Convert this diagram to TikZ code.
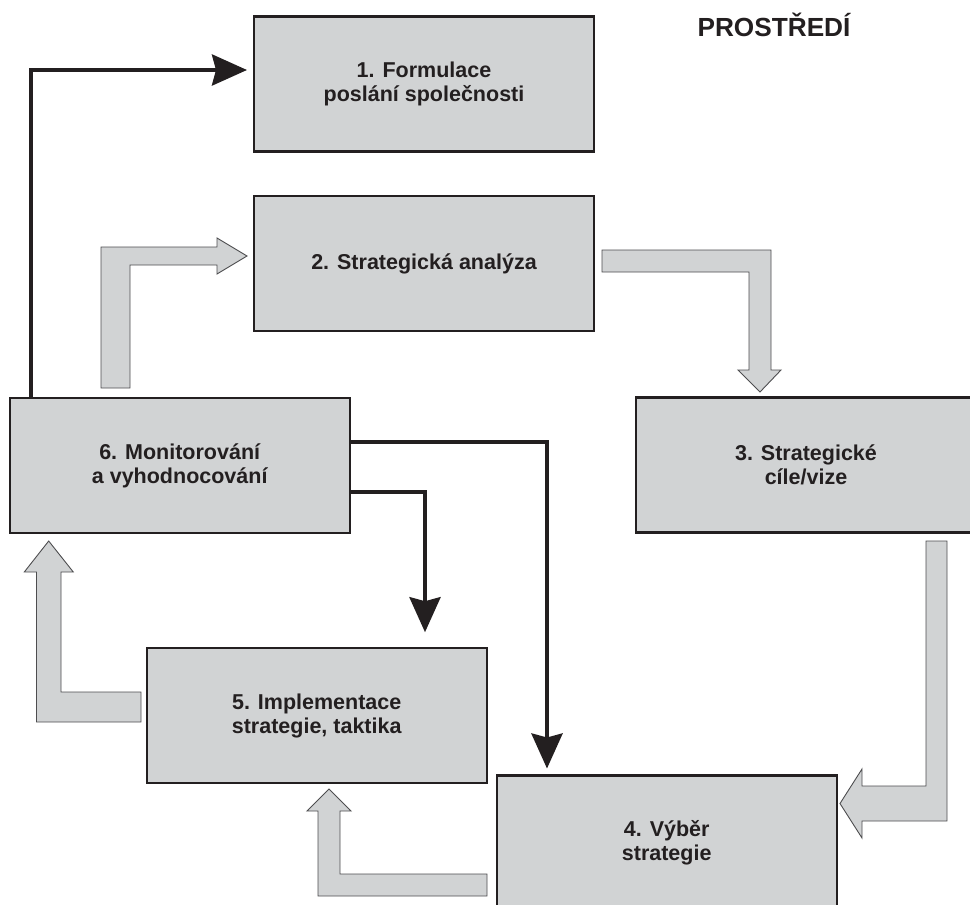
\documentclass[tikz,border=0pt]{standalone}
\usepackage{fontspec}
\setmainfont{Liberation Sans}
\usetikzlibrary{arrows.meta}
\definecolor{boxgray}{HTML}{D1D3D4}
\definecolor{ink}{HTML}{231F20}
\definecolor{edgegray}{HTML}{4D4D4F}
\tikzset{
  stage/.style={draw=ink, line width=2.2pt, fill=boxgray, minimum width=340pt, minimum height=135pt,
    inner sep=0pt, outer sep=0pt, align=center, text=ink,
    font=\fontsize{21.5}{24}\selectfont\bfseries},
  blk/.style={draw=ink, line width=4pt, -{Stealth[length=35pt, width=31pt, inset=4pt]}},
  garrow/.style={draw=edgegray, line width=0.9pt, fill=boxgray, line join=miter}
}
\begin{document}
\begin{tikzpicture}[x=1pt, y=-1pt]
\useasboundingbox (0,0) rectangle (970,905);
\clip (0,0) rectangle (970,905);

% stage boxes
\node[stage] (b1) at (424,84) {1. Formulace\\poslání společnosti};
\node[stage] (b2) at (424,263.5) {2. Strategická analýza};
\node[stage] (b3) at (806,465) {3. Strategické\\cíle/vize};
\node[stage] (b4) at (666.7,843) {4. Výběr\\strategie};
\node[stage] (b5) at (316.7,715.7) {5. Implementace\\strategie, taktika};
\node[stage] (b6) at (179.7,465.5) {6. Monitorování\\a vyhodnocování};

\node[text=ink, font=\fontsize{26.2}{30}\selectfont\bfseries] (env) at (774,25) {PROSTŘEDÍ};

% gray block arrows
% 6 -> 2
\filldraw[garrow] (101,388) -- (101,247) -- (217,247) -- (217,238) -- (247,256) -- (217,274) -- (217,265) -- (130,265) -- (130,388) -- cycle;
% 2 -> 3
\filldraw[garrow] (602,250) -- (771,250) -- (771,370) -- (781,370) -- (760,392) -- (738,370) -- (749,370) -- (749,272) -- (602,272) -- cycle;
% 3 -> 4
\filldraw[garrow] (926,541) -- (947,541) -- (947,821) -- (862,821) -- (862,838) -- (840,803.5) -- (862,769) -- (862,786) -- (926,786) -- cycle;
% 4 -> 5
\filldraw[garrow] (487,874) -- (487,896) -- (318,896) -- (318,811) -- (307,811) -- (329,789) -- (351,811) -- (340,811) -- (340,874) -- cycle;
% 5 -> 6
\filldraw[garrow] (141,692) -- (141,722) -- (36.5,722) -- (36.5,572) -- (24.3,572) -- (48.7,541) -- (73.3,572) -- (61,572) -- (61,692) -- cycle;

% black feedback connectors
\draw[blk] ([xshift=21pt]b6.north west) |- ([xshift=-7pt,yshift=14pt]b1.west);
\draw[blk] ([yshift=23.8pt]b6.east) -| ([xshift=-119.7pt,yshift=7pt]b4.north);
\draw[blk] ([yshift=-26.8pt]b6.east) -| ([xshift=108.3pt,yshift=16pt]b5.north);
\end{tikzpicture}
\end{document}
